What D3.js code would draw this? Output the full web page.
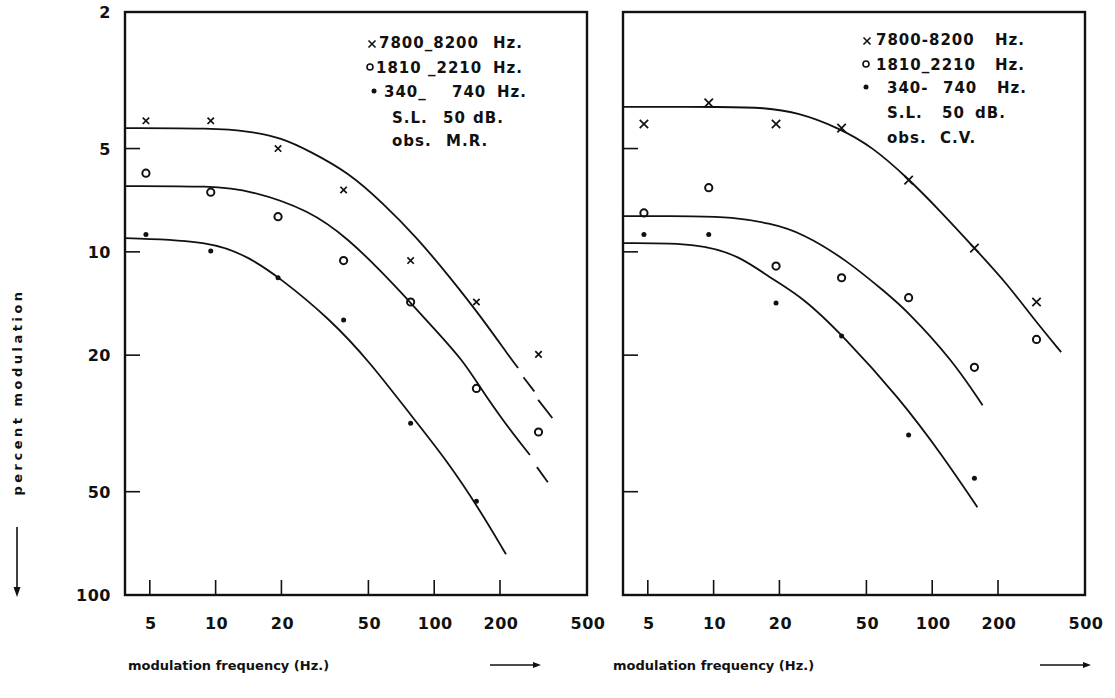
<!DOCTYPE html>
<html lang="en">
<head>
<meta charset="UTF-8">
<title>Modulation threshold vs modulation frequency</title>
<script src="https://d3js.org/d3.v7.min.js"></script>
<style>
  body { margin: 0; background: #fff; }
  text { font-family: "DejaVu Sans", sans-serif; font-weight: bold; fill: #111; }
  .tick-label { font-size: 16px; letter-spacing: 0.5px; }
  .legend { font-size: 15px; letter-spacing: 1px; white-space: pre; }
  .axis-title { font-size: 13px; }
  .y-title { font-size: 13px; letter-spacing: 3.5px; }
  .frame { fill: none; stroke: #111; stroke-width: 2.4px; }
  .tick { stroke: #111; stroke-width: 1.6px; }
  .curve { fill: none; stroke: #111; stroke-width: 1.8px; }
</style>
</head>
<body>
<div id="chart"></div>
<script>
// modulation frequencies of the measured points (Hz)
const freqs = [4.8, 9.5, 19.3, 38.5, 78, 156, 300];
const xTicks = [5, 10, 20, 50, 100, 200, 500];
const yTicks = [2, 5, 10, 20, 50, 100];

// obs. M.R. (percent modulation at threshold)
const mrHigh = [4.15, 4.15, 5.0, 6.6, 10.6, 14.0, 19.9];   // 7800-8200 Hz
const mrMid  = [5.9, 6.7, 7.9, 10.6, 14.0, 25.0, 33.5];    // 1810-2210 Hz
const mrLow  = [8.9, 9.95, 11.9, 15.8, 31.6, 53.3];        // 340-740 Hz

// obs. C.V.
const cvHigh = [4.24, 3.68, 4.24, 4.36, 6.18, 9.75, 14.0];
const cvMid  = [7.7, 6.5, 11.0, 11.9, 13.6, 21.7, 18.0];
const cvLow  = [8.9, 8.9, 14.1, 17.6, 34.2, 45.7];

// hand drawn curves, [frequency, percent]
const mrHighCurve = [[3.85, 4.36], [9.7, 4.36], [14.3, 4.45], [20, 4.65], [27, 5.09], [41, 5.9], [58, 7.2], [83, 9.06], [118, 11.85], [168, 15.8], [222, 20.3], [242, 21.8]];
const mrHighDashes = [[[256, 23.2], [287, 25.5]], [[299, 27.0], [347, 30.5]]];
const mrMidCurve = [[3.85, 6.43], [9.7, 6.43], [14.3, 6.61], [27, 7.56], [41, 9.24], [58, 11.5], [77.5, 14.0], [103, 17.1], [135, 20.7], [162, 24.8], [206, 31.0], [274, 39.1]];
const mrMidDashes = [[[295, 42.4], [331, 46.9]]];
const mrLowCurve = [[3.85, 9.12], [9.7, 9.3], [14.3, 10.4], [19.5, 11.85], [33.4, 15.7], [50.8, 20.95], [80, 30.5], [114, 40.5], [162, 56.6], [213, 76.1]];

const cvHighCurve = [[3.85, 3.78], [11.9, 3.78], [16.8, 3.8], [24, 3.91], [37.7, 4.36], [53.3, 4.95], [76.3, 6.05], [108, 7.56], [159, 9.88], [218, 12.3], [287, 15.5], [389, 19.6]];
const cvMidCurve = [[3.85, 7.87], [8.65, 7.87], [11.9, 7.92], [18.1, 8.24], [25.5, 8.82], [40.6, 10.57], [61.8, 13.2], [76.3, 14.8], [124, 20.7], [170, 28.0]];
const cvLowCurve = [[3.85, 9.43], [8.65, 9.43], [13.2, 10.3], [18.1, 11.9], [25.5, 13.55], [38.9, 17.5], [70.8, 26.7], [111, 39.1], [161, 55.5]];

const W = 1115, H = 698;
const svg = d3.select("#chart").append("svg")
    .attr("width", W)
    .attr("height", H);

const plotTop = 12, plotBottom = 595, pw = 462;

const y = d3.scaleLog().domain([2, 100]).range([plotTop, plotBottom]);

function drawPanel(x0, data, legendRows, opts) {
    const x = d3.scaleLog().domain([3.85, 500]).range([x0, x0 + pw]);
    const g = svg.append("g");

    g.append("rect")
        .attr("class", "frame")
        .attr("x", x0)
        .attr("y", plotTop)
        .attr("width", pw)
        .attr("height", plotBottom - plotTop);

    // ticks inside the frame
    g.selectAll(".xt")
        .data(xTicks.filter(d => d < 500))
        .enter().append("line")
        .attr("class", "tick")
        .attr("x1", d => x(d)).attr("x2", d => x(d))
        .attr("y1", plotBottom).attr("y2", plotBottom - 15);

    g.selectAll(".yt")
        .data(yTicks.filter(d => d > 2 && d < 100))
        .enter().append("line")
        .attr("class", "tick")
        .attr("x1", x0).attr("x2", x0 + 15)
        .attr("y1", d => y(d)).attr("y2", d => y(d));

    g.selectAll(".xl")
        .data(xTicks)
        .enter().append("text")
        .attr("class", "tick-label")
        .attr("x", d => x(d) + 1)
        .attr("y", 629)
        .attr("text-anchor", "middle")
        .text(d => d);

    if (opts.yLabels) {
        g.selectAll(".yl")
            .data(yTicks)
            .enter().append("text")
            .attr("class", "tick-label")
            .attr("x", 111)
            .attr("y", d => y(d) + 6)
            .attr("text-anchor", "end")
            .text(d => d);
    }

    const line = d3.line()
        .x(d => x(d[0]))
        .y(d => y(d[1]))
        .curve(d3.curveBasis);

    data.curves.forEach(c => {
        g.append("path").attr("class", "curve").attr("d", line(c));
    });
    data.dashes.forEach(c => {
        g.append("path").attr("class", "curve").attr("d", line(c));
    });

    // measured points
    const cs = opts.cross;
    data.high.forEach((v, i) => {
        const cx = x(freqs[i]), cy = y(v);
        g.append("path")
            .attr("d", `M${cx - cs},${cy - cs}L${cx + cs},${cy + cs}M${cx - cs},${cy + cs}L${cx + cs},${cy - cs}`)
            .attr("stroke", "#111")
            .attr("stroke-width", 1.7);
    });
    data.mid.forEach((v, i) => {
        g.append("circle")
            .attr("cx", x(freqs[i])).attr("cy", y(v)).attr("r", 3.6)
            .attr("fill", "none").attr("stroke", "#111").attr("stroke-width", 2);
    });
    data.low.forEach((v, i) => {
        g.append("circle")
            .attr("cx", x(freqs[i])).attr("cy", y(v)).attr("r", 2.5)
            .attr("fill", "#111");
    });

    // legend
    legendRows.forEach(r => {
        if (r.mark === "x") {
            const s = 3.5;
            g.append("path")
                .attr("d", `M${r.mx - s},${r.y - s + 2}L${r.mx + s},${r.y + s + 2}M${r.mx - s},${r.y + s + 2}L${r.mx + s},${r.y - s + 2}`)
                .attr("stroke", "#111").attr("stroke-width", 1.6);
        } else if (r.mark === "o") {
            g.append("circle").attr("cx", r.mx).attr("cy", r.y).attr("r", 3)
                .attr("fill", "none").attr("stroke", "#111").attr("stroke-width", 1.6);
        } else if (r.mark === "dot") {
            g.append("circle").attr("cx", r.mx).attr("cy", r.y).attr("r", 2.5).attr("fill", "#111");
        }
        r.parts.forEach(p => {
            g.append("text")
                .attr("class", "legend")
                .attr("x", p[1])
                .attr("y", r.y + 6)
                .text(p[0]);
        });
    });
}

drawPanel(125,
    { high: mrHigh, mid: mrMid, low: mrLow,
      curves: [mrHighCurve, mrMidCurve, mrLowCurve],
      dashes: mrHighDashes.concat(mrMidDashes) },
    [
        { mark: "x", mx: 372, y: 42, parts: [["7800_8200", 379], ["Hz.", 493]] },
        { mark: "o", mx: 370, y: 67, parts: [["1810 _2210", 376], ["Hz.", 493]] },
        { mark: "dot", mx: 374, y: 91, parts: [["340_", 384], ["740", 452], ["Hz.", 497]] },
        { y: 117, parts: [["S.L.", 392], ["50", 443], ["dB.", 473]] },
        { y: 140, parts: [["obs.", 392], ["M.R.", 446]] }
    ],
    { yLabels: true, cross: 3.2 });

drawPanel(623,
    { high: cvHigh, mid: cvMid, low: cvLow,
      curves: [cvHighCurve, cvMidCurve, cvLowCurve],
      dashes: [] },
    [
        { mark: "x", mx: 867, y: 39, parts: [["7800-8200", 876], ["Hz.", 995]] },
        { mark: "o", mx: 866, y: 64, parts: [["1810_2210", 876], ["Hz.", 995]] },
        { mark: "dot", mx: 866, y: 87, parts: [["340-", 887], ["740", 943], ["Hz.", 997]] },
        { y: 112, parts: [["S.L.", 887], ["50", 942], ["dB.", 975]] },
        { y: 137, parts: [["obs.", 887], ["C.V.", 940]] }
    ],
    { yLabels: false, cross: 4.2 });

// axis titles
function arrowRight(x1, x2, yy) {
    svg.append("line").attr("x1", x1).attr("x2", x2 - 6).attr("y1", yy).attr("y2", yy)
        .attr("stroke", "#111").attr("stroke-width", 1.6);
    svg.append("path").attr("d", `M${x2 - 8},${yy - 3}L${x2},${yy}L${x2 - 8},${yy + 3}Z`).attr("fill", "#111");
}

svg.append("text").attr("class", "axis-title").attr("x", 128).attr("y", 670)
    .text("modulation frequency (Hz.)");
arrowRight(490, 541, 665);
svg.append("text").attr("class", "axis-title").attr("x", 613).attr("y", 670)
    .text("modulation frequency (Hz.)");
arrowRight(1040, 1091, 665);

svg.append("text").attr("class", "y-title")
    .attr("transform", "translate(22,392) rotate(-90)")
    .attr("text-anchor", "middle")
    .text("percent modulation");
svg.append("line").attr("x1", 17).attr("x2", 17).attr("y1", 527).attr("y2", 590)
    .attr("stroke", "#111").attr("stroke-width", 1.6);
svg.append("path").attr("d", "M13.5,587L17,597L20.5,587Z").attr("fill", "#111");
</script>
</body>
</html>
